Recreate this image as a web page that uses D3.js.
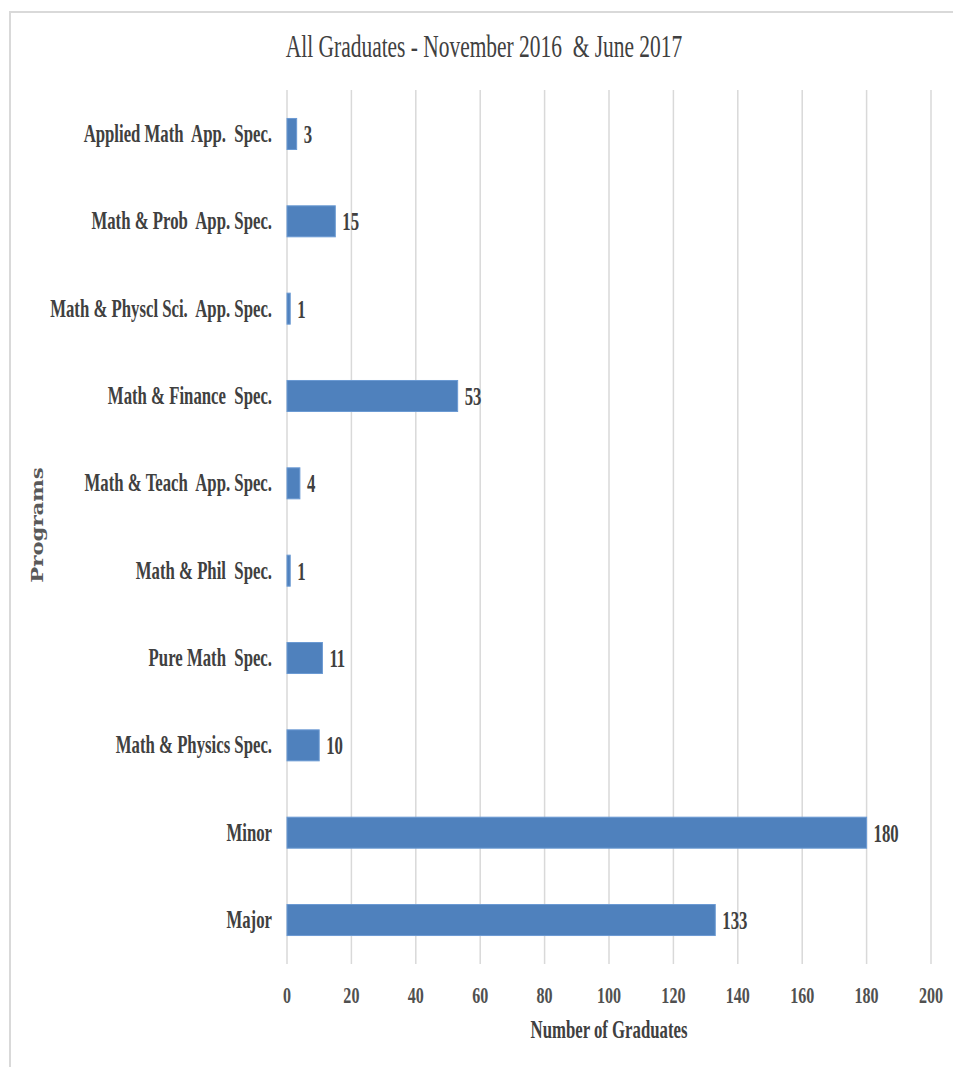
<!DOCTYPE html>
<html>
<head>
<meta charset="utf-8">
<script src="https://cdn.jsdelivr.net/npm/d3@7/dist/d3.min.js"></script>
<style>
  html, body { margin: 0; padding: 0; background: #fff; }
  svg { display: block; }
  text { white-space: pre; }
</style>
</head>
<body>
<div id="chart"></div>
<script>
// ---- data ----
const categories = [
  "Applied Math  App.  Spec.",
  "Math & Prob  App. Spec.",
  "Math & Physcl Sci.  App. Spec.",
  "Math & Finance  Spec.",
  "Math & Teach  App. Spec.",
  "Math & Phil  Spec.",
  "Pure Math  Spec.",
  "Math & Physics Spec.",
  "Minor",
  "Major"
];
const values = [3, 15, 1, 53, 4, 1, 11, 10, 180, 133];
const xTicks = [0, 20, 40, 60, 80, 100, 120, 140, 160, 180, 200];
const chartTitle = "All Graduates - November 2016  & June 2017";
const xAxisTitle = "Number of Graduates";
const yAxisTitle = "Programs";

// ---- layout ----
const W = 953, H = 1067;
const plot = { left: 287, right: 931, top: 90, bottom: 964 };
const textColor = "#404040";
const SX = 0.67; // horizontal condensing of the serif text

const svg = d3.select("#chart").append("svg")
  .attr("width", W).attr("height", H);

// outer frame (top and left edges visible)
svg.append("path")
  .attr("d", `M10,${H} L10,12 L${W},12`)
  .attr("fill", "none").attr("stroke", "#d9d9d9").attr("stroke-width", 2);

const x = d3.scaleLinear().domain([0, 200]).range([plot.left, plot.right]);
const y = d3.scaleBand().domain(categories)
  .range([plot.top, plot.bottom]).paddingInner(0.645).paddingOuter(0.326);

// condensed text helper
function ctext(parent, tx, ty, str, opts) {
  const g = parent.append("g").attr("transform", `translate(${tx},${ty})${opts.rotate ? " rotate(" + opts.rotate + ")" : ""}`);
  const t = g.append("text")
    .attr("transform", `scale(${opts.sx || SX},1)`)
    .attr("text-anchor", opts.anchor || "start")
    .style("font-family", opts.family || "Liberation Serif")
    .style("font-size", opts.size + "px")
    .style("font-weight", opts.weight || "bold")
    .attr("fill", opts.color || textColor)
    .text(str);
  if (opts.spacing) t.attr("letter-spacing", opts.spacing);
  return t;
}

// gridlines
svg.append("g").selectAll("line").data(xTicks).join("line")
  .attr("x1", d => x(d)).attr("x2", d => x(d))
  .attr("y1", plot.top).attr("y2", plot.bottom)
  .attr("stroke", "#d9d9d9").attr("stroke-width", 1.5);

// bars
svg.append("g").selectAll("rect").data(categories).join("rect")
  .attr("x", x(0))
  .attr("y", d => y(d))
  .attr("width", (d, i) => x(values[i]) - x(0))
  .attr("height", y.bandwidth())
  .attr("fill", "#4f81bd")
  .attr("stroke", "#6b9ad3").attr("stroke-width", 1);

// category labels
categories.forEach((c, i) => {
  ctext(svg, plot.left - 15, y(c) + y.bandwidth() / 2 + 8, c, { size: 25, anchor: "end" });
});

// value labels
categories.forEach((c, i) => {
  ctext(svg, x(values[i]) + 7, y(c) + y.bandwidth() / 2 + 9, String(values[i]), { size: 25 });
});

// x tick labels
xTicks.forEach(t => {
  ctext(svg, x(t), 1003, String(t), { size: 24, anchor: "middle", color: "#505050" });
});

// axis titles
ctext(svg, (plot.left + plot.right) / 2, 1038, xAxisTitle, { size: 25, anchor: "middle" });
ctext(svg, 484, 57, chartTitle, { size: 32, anchor: "middle", weight: "normal", color: "#404040" });
ctext(svg, 43, 525, yAxisTitle, { size: 17, anchor: "middle", rotate: -90, sx: 1.25,
  family: "DejaVu Serif", color: "#595959" });
</script>
</body>
</html>
